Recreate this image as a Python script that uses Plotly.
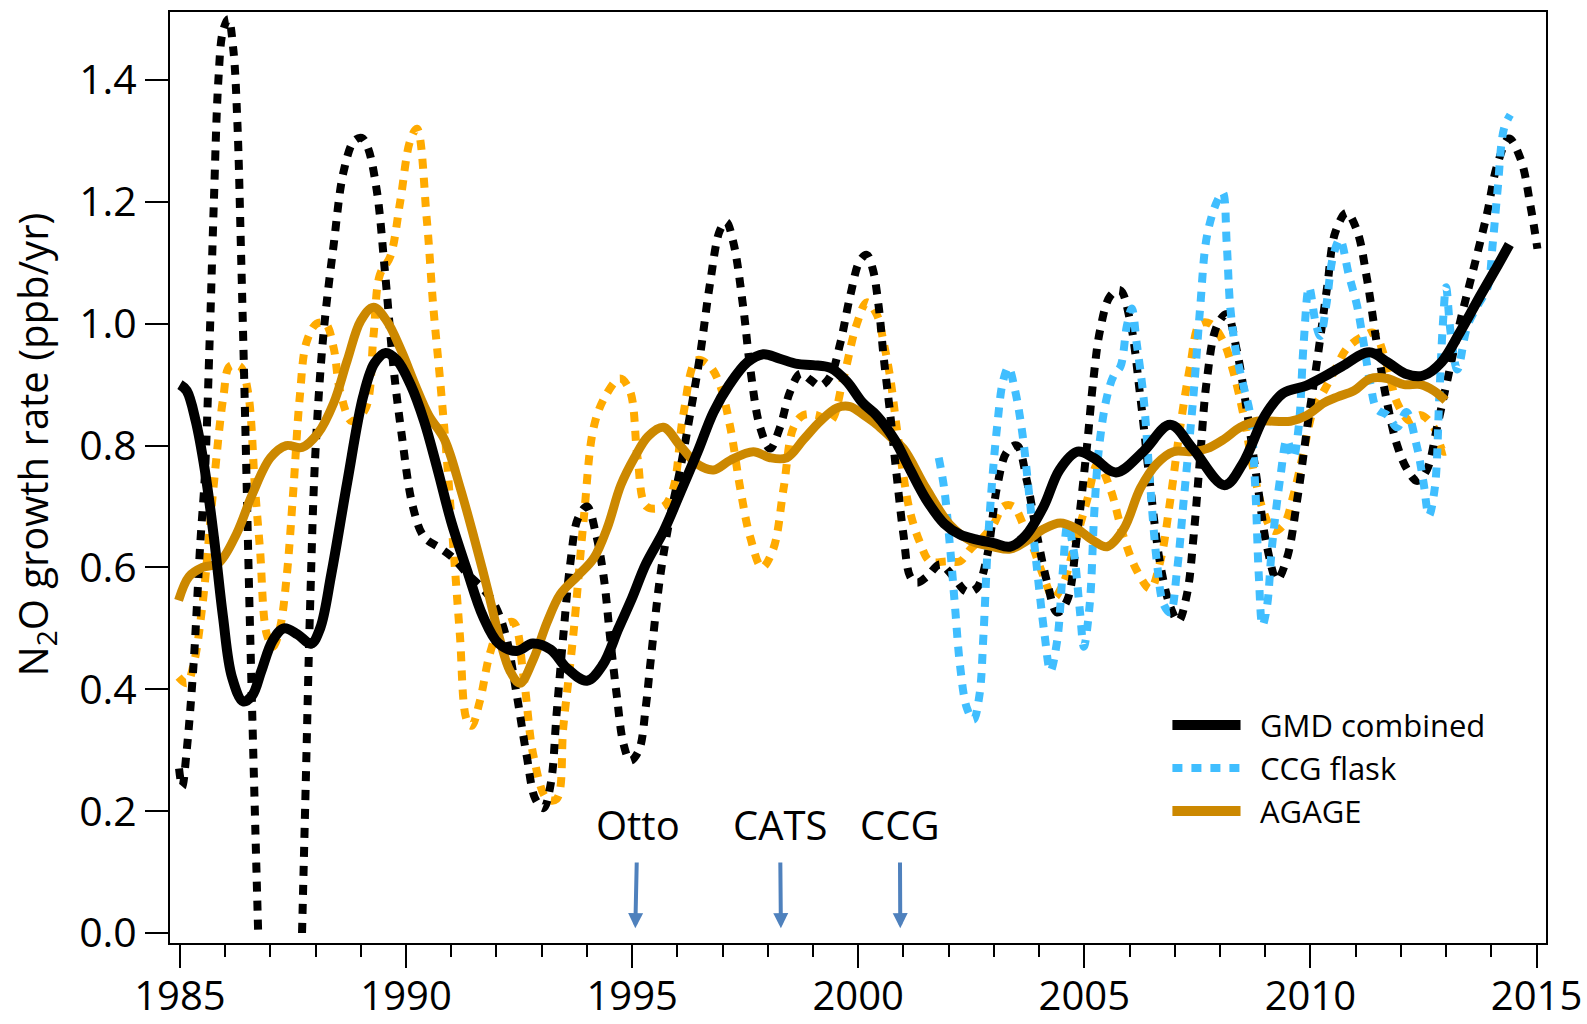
import plotly.graph_objects as go

# GMD combined, smoothed (solid black)
gmd_yr = [1985.0, 1985.15, 1985.35, 1985.55, 1985.75, 1985.95, 1986.15, 1986.4, 1986.6, 1986.8,
          1987.05, 1987.3, 1987.6, 1987.9, 1988.1, 1988.35, 1988.7, 1989.05, 1989.3, 1989.55,
          1989.8, 1990.1, 1990.4, 1990.7, 1991.0, 1991.35, 1991.7, 1992.05, 1992.45, 1992.8,
          1993.2, 1993.55, 1994.0, 1994.35, 1994.7, 1995.0, 1995.3, 1995.7, 1996.05, 1996.45,
          1996.8, 1997.15, 1997.55, 1997.9, 1998.25, 1998.65, 1999.0, 1999.4, 1999.75, 2000.1,
          2000.4, 2000.8, 2001.15, 2001.5, 2001.9, 2002.25, 2002.6, 2003.0, 2003.35, 2003.7,
          2004.1, 2004.45, 2004.85, 2005.2, 2005.7, 2006.3, 2006.9, 2007.4, 2008.1, 2008.5,
          2009.0, 2009.4, 2009.9, 2010.3, 2010.7, 2011.3, 2011.7, 2012.1, 2012.5, 2012.9,
          2013.3, 2013.75, 2014.1, 2014.4]
gmd_val = [0.90, 0.89, 0.84, 0.76, 0.65, 0.52, 0.42, 0.38, 0.39, 0.43,
           0.48, 0.50, 0.49, 0.475, 0.50, 0.59, 0.74, 0.88, 0.935, 0.952,
           0.94, 0.90, 0.84, 0.76, 0.675, 0.595, 0.52, 0.475, 0.463, 0.475,
           0.465, 0.435, 0.414, 0.44, 0.50, 0.55, 0.605, 0.66, 0.72, 0.79,
           0.855, 0.90, 0.937, 0.95, 0.943, 0.934, 0.932, 0.927, 0.905, 0.87,
           0.85, 0.81, 0.76, 0.712, 0.672, 0.654, 0.646, 0.64, 0.634, 0.652,
           0.70, 0.76, 0.79, 0.78, 0.756, 0.79, 0.834, 0.795, 0.735, 0.77,
           0.85, 0.886, 0.898, 0.913, 0.93, 0.953, 0.937, 0.918, 0.915, 0.937,
           0.985, 1.045, 1.09, 1.13]

# GMD, unsmoothed (dotted black); None marks where it runs off the bottom
gmd_raw_yr = [1984.98, 1985.05, 1985.15, 1985.3, 1985.45, 1985.55, 1985.66, 1985.75, 1985.85, 1985.95,
              1986.07, 1986.18, 1986.27, 1986.35, 1986.44, 1986.53, 1986.62, 1986.73, None,
              1987.7, 1987.78, 1987.88, 1987.99, 1988.17, 1988.4, 1988.62, 1988.85, 1989.02, 1989.15,
              1989.35, 1989.54, 1989.72, 1989.9, 1990.15, 1990.4, 1990.75, 1991.05, 1991.35, 1991.7,
              1991.95, 1992.2, 1992.45, 1992.67, 1992.86, 1993.04, 1993.2, 1993.33, 1993.48, 1993.63,
              1993.8, 1994.0, 1994.2, 1994.37, 1994.51, 1994.66, 1994.81, 1994.96, 1995.15, 1995.3,
              1995.4, 1995.62, 1995.84, 1996.06, 1996.28, 1996.5, 1996.72, 1996.94, 1997.08, 1997.24,
              1997.46, 1997.61, 1997.83, 1998.05, 1998.27, 1998.49, 1998.72, 1998.94, 1999.16, 1999.38,
              1999.6, 1999.82, 2000.04, 2000.19, 2000.32, 2000.45, 2000.56, 2000.71, 2000.85, 2001.0,
              2001.15, 2001.3, 2001.52, 2001.81, 2002.1, 2002.4, 2002.62, 2002.84, 2003.07, 2003.29,
              2003.51, 2003.73, 2003.95, 2004.18, 2004.4, 2004.62, 2004.84, 2005.06, 2005.2, 2005.35,
              2005.57, 2005.79, 2006.01, 2006.24, 2006.46, 2006.68, 2006.9, 2007.08, 2007.27, 2007.42,
              2007.56, 2007.71, 2007.93, 2008.15, 2008.37, 2008.59, 2008.82, 2009.04, 2009.26, 2009.48,
              2009.71, 2009.93, 2010.15, 2010.37, 2010.55, 2010.8, 2011.03, 2011.25, 2011.47, 2011.7,
              2011.92, 2012.14, 2012.36, 2012.58, 2012.8, 2013.03, 2013.32, 2013.62, 2013.91, 2014.13,
              2014.39, 2014.65, 2014.87, 2015.02]
gmd_raw_val = [0.27, 0.24, 0.30, 0.44, 0.64, 0.75, 0.98, 1.20, 1.40, 1.48,
               1.50, 1.45, 1.33, 1.12, 0.85, 0.56, 0.30, 0.0, None,
               0.0, 0.24, 0.54, 0.78, 0.98, 1.13, 1.25, 1.30, 1.305, 1.29,
               1.22, 1.08, 0.93, 0.82, 0.70, 0.65, 0.632, 0.615, 0.59, 0.565,
               0.54, 0.49, 0.39, 0.29, 0.22, 0.205, 0.245, 0.36, 0.49, 0.605,
               0.68, 0.70, 0.655, 0.585, 0.487, 0.39, 0.31, 0.283, 0.30, 0.37,
               0.44, 0.585, 0.683, 0.76, 0.85, 0.947, 1.065, 1.153, 1.167, 1.133,
               1.025, 0.928, 0.83, 0.795, 0.83, 0.888, 0.918, 0.908, 0.898, 0.913,
               0.967, 1.045, 1.104, 1.113, 1.09, 1.03, 0.947, 0.85, 0.751, 0.654,
               0.585, 0.575, 0.585, 0.605, 0.585, 0.56, 0.566, 0.615, 0.732, 0.79,
               0.80, 0.742, 0.654, 0.575, 0.526, 0.546, 0.654, 0.80, 0.908, 0.99,
               1.045, 1.055, 1.006, 0.879, 0.732, 0.605, 0.536, 0.512, 0.556, 0.654,
               0.78, 0.908, 0.996, 1.016, 0.957, 0.86, 0.742, 0.634, 0.58, 0.615,
               0.712, 0.83, 0.94, 1.06, 1.15, 1.182, 1.153, 1.074, 0.967, 0.869,
               0.80, 0.761, 0.742, 0.761, 0.83, 0.908, 1.006, 1.094, 1.182, 1.26,
               1.304, 1.27, 1.192, 1.123]

# CCG flask (dotted blue)
ccg_yr = [2001.78, 2001.9, 2002.03, 2002.14, 2002.25, 2002.4, 2002.55, 2002.68, 2002.77, 2002.86,
          2002.96, 2003.07, 2003.2, 2003.32, 2003.47, 2003.63, 2003.78, 2003.95, 2004.12, 2004.25,
          2004.4, 2004.52, 2004.63, 2004.76, 2004.9, 2004.99, 2005.12, 2005.22, 2005.33, 2005.5,
          2005.65, 2005.8, 2005.94, 2006.05, 2006.16, 2006.31, 2006.46, 2006.61, 2006.75, 2006.9,
          2007.05, 2007.2, 2007.42, 2007.56, 2007.71, 2007.93, 2008.06, 2008.15, 2008.23, 2008.37,
          2008.52, 2008.67, 2008.78, 2008.86, 2008.94, 2009.04, 2009.15, 2009.34, 2009.48, 2009.62,
          2009.74, 2009.85, 2009.97, 2010.12, 2010.22, 2010.35, 2010.5, 2010.65, 2010.85, 2011.03,
          2011.18, 2011.33, 2011.47, 2011.7, 2011.92, 2012.12, 2012.35, 2012.5, 2012.62, 2012.75,
          2012.85, 2012.93, 2013.0, 2013.1, 2013.25, 2013.47, 2013.7, 2013.92, 2014.03, 2014.14,
          2014.28, 2014.42]
ccg_val = [0.78, 0.73, 0.634, 0.536, 0.44, 0.37, 0.35, 0.39, 0.49, 0.63,
           0.74, 0.83, 0.905, 0.928, 0.89, 0.82, 0.72, 0.60, 0.49, 0.43,
           0.48, 0.59, 0.67, 0.63, 0.53, 0.47, 0.54, 0.69, 0.80, 0.88,
           0.915, 0.93, 0.996, 1.025, 0.967, 0.879, 0.732, 0.605, 0.54, 0.526,
           0.595, 0.712, 0.888, 1.025, 1.143, 1.20, 1.215, 1.13, 1.025, 0.947,
           0.898, 0.85, 0.732, 0.585, 0.505, 0.536, 0.634, 0.751, 0.81, 0.78,
           0.83, 0.967, 1.06, 1.0, 0.98, 1.03, 1.11, 1.138, 1.08, 1.03,
           0.967, 0.90, 0.86, 0.85, 0.83, 0.855, 0.80, 0.74, 0.685, 0.73,
           0.88, 1.0, 1.06, 0.986, 0.925, 0.996, 1.03, 1.06, 1.13, 1.22,
           1.32, 1.343]

# AGAGE, smoothed (solid dark orange)
agage_yr = [1984.97, 1985.2, 1985.5, 1985.85, 1986.25, 1986.6, 1987.0, 1987.35, 1987.7, 1988.05,
            1988.4, 1988.7, 1989.0, 1989.28, 1989.57, 1989.9, 1990.2, 1990.5, 1990.85, 1991.2,
            1991.5, 1991.8, 1992.08, 1992.3, 1992.52, 1992.82, 1993.12, 1993.41, 1993.78, 1994.15,
            1994.45, 1994.75, 1995.05, 1995.35, 1995.69, 1996.06, 1996.43, 1996.8, 1997.17, 1997.68,
            1998.05, 1998.42, 1998.79, 1999.16, 1999.53, 1999.82, 2000.12, 2000.4, 2000.7, 2001.0,
            2001.5, 2002.03, 2002.48, 2002.99, 2003.36, 2003.73, 2004.1, 2004.47, 2004.84, 2005.2,
            2005.5, 2005.87, 2006.24, 2006.6, 2006.97, 2007.34, 2007.71, 2008.08, 2008.45, 2008.82,
            2009.19, 2009.56, 2009.93, 2010.3, 2010.6, 2010.96, 2011.33, 2011.7, 2012.07, 2012.44,
            2012.73, 2012.99]
agage_val = [0.546, 0.585, 0.60, 0.607, 0.655, 0.72, 0.78, 0.80, 0.797, 0.82,
             0.87, 0.94, 1.005, 1.027, 1.005, 0.955, 0.90, 0.85, 0.81, 0.73,
             0.65, 0.565, 0.48, 0.43, 0.41, 0.45, 0.51, 0.556, 0.585, 0.615,
             0.665, 0.735, 0.78, 0.815, 0.83, 0.80, 0.77, 0.76, 0.776, 0.79,
             0.78, 0.78, 0.81, 0.84, 0.862, 0.864, 0.85, 0.835, 0.815, 0.795,
             0.73, 0.67, 0.644, 0.634, 0.63, 0.644, 0.663, 0.673, 0.663, 0.644,
             0.634, 0.663, 0.73, 0.77, 0.79, 0.79, 0.795, 0.81, 0.83, 0.84,
             0.84, 0.84, 0.85, 0.87, 0.88, 0.89, 0.91, 0.91, 0.90, 0.90,
             0.89, 0.874]

# AGAGE, unsmoothed (dotted orange)
agage_raw_yr = [1984.97, 1985.15, 1985.3, 1985.5, 1985.74, 1985.96, 1986.1, 1986.33, 1986.5, 1986.66,
                1986.77, 1986.92, 1987.06, 1987.21, 1987.36, 1987.51, 1987.65, 1987.8, 1988.02, 1988.22,
                1988.4, 1988.54, 1988.8, 1989.1, 1989.28, 1989.42, 1989.65, 1989.87, 1990.09, 1990.24,
                1990.46, 1990.6, 1990.75, 1990.9, 1991.05, 1991.19, 1991.34, 1991.45, 1991.63, 1991.86,
                1992.08, 1992.37, 1992.6, 1992.82, 1993.12, 1993.33, 1993.48, 1993.7, 1993.93, 1994.15,
                1994.4, 1994.73, 1994.95, 1995.12, 1995.32, 1995.69, 1995.91, 1996.13, 1996.43, 1996.72,
                1996.94, 1997.17, 1997.39, 1997.61, 1997.87, 1998.12, 1998.35, 1998.57, 1998.79, 1999.08,
                1999.38, 1999.67, 1999.97, 2000.19, 2000.41, 2000.56, 2000.71, 2000.85, 2001.0, 2001.15,
                2001.37, 2001.59, 2001.96, 2002.25, 2002.48, 2002.77, 2002.99, 2003.21, 2003.43, 2003.65,
                2003.88, 2004.1, 2004.32, 2004.54, 2004.76, 2005.06, 2005.3, 2005.57, 2005.87, 2006.16,
                2006.46, 2006.68, 2006.9, 2007.12, 2007.34, 2007.56, 2007.79, 2008.08, 2008.3, 2008.52,
                2008.74, 2008.97, 2009.19, 2009.41, 2009.63, 2009.85, 2010.07, 2010.3, 2010.55, 2010.81,
                2011.18, 2011.4, 2011.7, 2011.92, 2012.21, 2012.44, 2012.73, 2012.95, 2013.1]
agage_raw_val = [0.42, 0.41, 0.44, 0.54, 0.73, 0.88, 0.93, 0.93, 0.89, 0.73,
                 0.63, 0.49, 0.47, 0.50, 0.585, 0.73, 0.88, 0.97, 1.0, 1.0,
                 0.96, 0.89, 0.84, 0.86, 0.98, 1.08, 1.11, 1.20, 1.30, 1.32,
                 1.17, 1.03, 0.91, 0.78, 0.63, 0.49, 0.35, 0.34, 0.38, 0.46,
                 0.50, 0.51, 0.42, 0.29, 0.22, 0.22, 0.34, 0.49, 0.68, 0.83,
                 0.88, 0.91, 0.89, 0.78, 0.70, 0.70, 0.73, 0.85, 0.94, 0.93,
                 0.90, 0.83, 0.73, 0.65, 0.60, 0.63, 0.73, 0.83, 0.85, 0.85,
                 0.84, 0.91, 1.0, 1.035, 1.015, 0.97, 0.91, 0.83, 0.75, 0.69,
                 0.64, 0.61, 0.61, 0.61, 0.63, 0.65, 0.67, 0.70, 0.70, 0.67,
                 0.63, 0.585, 0.55, 0.575, 0.63, 0.71, 0.77, 0.73, 0.65, 0.595,
                 0.565, 0.61, 0.71, 0.83, 0.93, 1.0, 1.0, 0.97, 0.92, 0.85,
                 0.76, 0.69, 0.66, 0.67, 0.72, 0.79, 0.86, 0.89, 0.925, 0.96,
                 0.98, 0.985, 0.93, 0.87, 0.84, 0.85, 0.83, 0.79, 0.795]

# instrument start markers: label position and arrow tip
event_names = ["Otto", "CATS", "CCG"]
event_label_yr = [1995.12, 1998.27, 2000.92]
event_tip_yr = [1995.07, 1998.29, 2000.93]

x_ticks = list(range(1985, 2016, 5))
y_ticks = [0.0, 0.2, 0.4, 0.6, 0.8, 1.0, 1.2, 1.4]

BLACK = "black"
BLUE = "#40BEFF"
ORANGE = "#FFAA00"
DARK_ORANGE = "#CC8800"
ARROW = "#4F81BD"
FONT = "Open Sans"
DOTS = "10px,9px"

fig = go.Figure()

fig.add_trace(go.Scatter(x=agage_raw_yr, y=agage_raw_val, mode="lines", line_shape="spline",
                         line=dict(color=ORANGE, width=8, dash=DOTS), hoverinfo="skip"))
fig.add_trace(go.Scatter(x=gmd_raw_yr, y=gmd_raw_val, mode="lines", line_shape="spline",
                         connectgaps=False, line=dict(color=BLACK, width=8, dash=DOTS), hoverinfo="skip"))
fig.add_trace(go.Scatter(x=ccg_yr, y=ccg_val, mode="lines", line_shape="spline", name="CCG flask",
                         line=dict(color=BLUE, width=8, dash=DOTS)))
fig.add_trace(go.Scatter(x=agage_yr, y=agage_val, mode="lines", line_shape="spline", name="AGAGE",
                         line=dict(color=DARK_ORANGE, width=9)))
fig.add_trace(go.Scatter(x=gmd_yr, y=gmd_val, mode="lines", line_shape="spline", name="GMD combined",
                         line=dict(color=BLACK, width=10)))

annotations = []
# y-axis title, placed by hand so it sits where the original has it
annotations.append(dict(text="N<sub>2</sub>O growth rate (ppb/yr)", xref="paper", yref="paper",
                        x=-0.0978, y=0.536, xanchor="center", yanchor="middle",
                        textangle=-90, showarrow=False,
                        font=dict(size=40, family=FONT, color=BLACK)))

# labels with a down arrow to the start year
for name, lab_yr, tip_yr in zip(event_names, event_label_yr, event_tip_yr):
    annotations.append(dict(text=name, x=tip_yr, y=0.008, ax=lab_yr, ay=0.178,
                            xref="x", yref="y", axref="x", ayref="y", showarrow=True,
                            arrowhead=2, arrowsize=0.75, arrowwidth=4, arrowcolor=ARROW,
                            startstandoff=9, font=dict(size=40, family=FONT, color=BLACK)))

# hand-drawn legend (longer sample lines than plotly's own legend)
legend_rows = [("GMD combined", BLACK, 10, "solid", 0.2342),
               ("CCG flask", BLUE, 8, DOTS, 0.188),
               ("AGAGE", DARK_ORANGE, 10, "solid", 0.1418)]
shapes = []
for label, color, width, dash, ypos in legend_rows:
    shapes.append(dict(type="line", xref="paper", yref="paper", x0=0.7285, x1=0.778, y0=ypos, y1=ypos,
                       line=dict(color=color, width=width, dash=dash)))
    annotations.append(dict(text=label, xref="paper", yref="paper", x=0.791, y=ypos,
                            xanchor="left", yanchor="middle", showarrow=False,
                            font=dict(size=31, family=FONT, color=BLACK)))

fig.update_layout(
    width=1587,
    height=1024,
    margin=dict(l=170, r=41, t=12, b=81),
    plot_bgcolor="white",
    paper_bgcolor="white",
    showlegend=False,
    font=dict(family=FONT, color=BLACK),
    annotations=annotations,
    shapes=shapes,
)
fig.update_xaxes(range=[1984.78, 2015.21], tickmode="array", tickvals=x_ticks,
                 ticks="outside", ticklen=23, tickwidth=2, tickcolor=BLACK,
                 showline=True, linewidth=2, linecolor=BLACK, mirror=True, automargin=False,
                 showgrid=False, zeroline=False, tickfont=dict(size=40, family=FONT),
                 ticklabelstandoff=-6,
                 minor=dict(tickvals=list(range(1985, 2016)), ticks="outside", ticklen=12,
                            tickwidth=2, tickcolor=BLACK, showgrid=False))
fig.update_yaxes(range=[-0.0164, 1.5116], tickmode="array", tickvals=y_ticks,
                 ticktext=["%.1f" % v for v in y_ticks],
                 ticks="outside", ticklen=23, tickwidth=2, tickcolor=BLACK,
                 showline=True, linewidth=2, linecolor=BLACK, mirror=True, automargin=False,
                 showgrid=False, zeroline=False, tickfont=dict(size=41, family=FONT))

# the page body has an 8px default margin; drop it so the figure fills the window exactly
fig.write_html("out.html", config={"displayModeBar": False},
               post_script="document.body.style.margin='0';")
